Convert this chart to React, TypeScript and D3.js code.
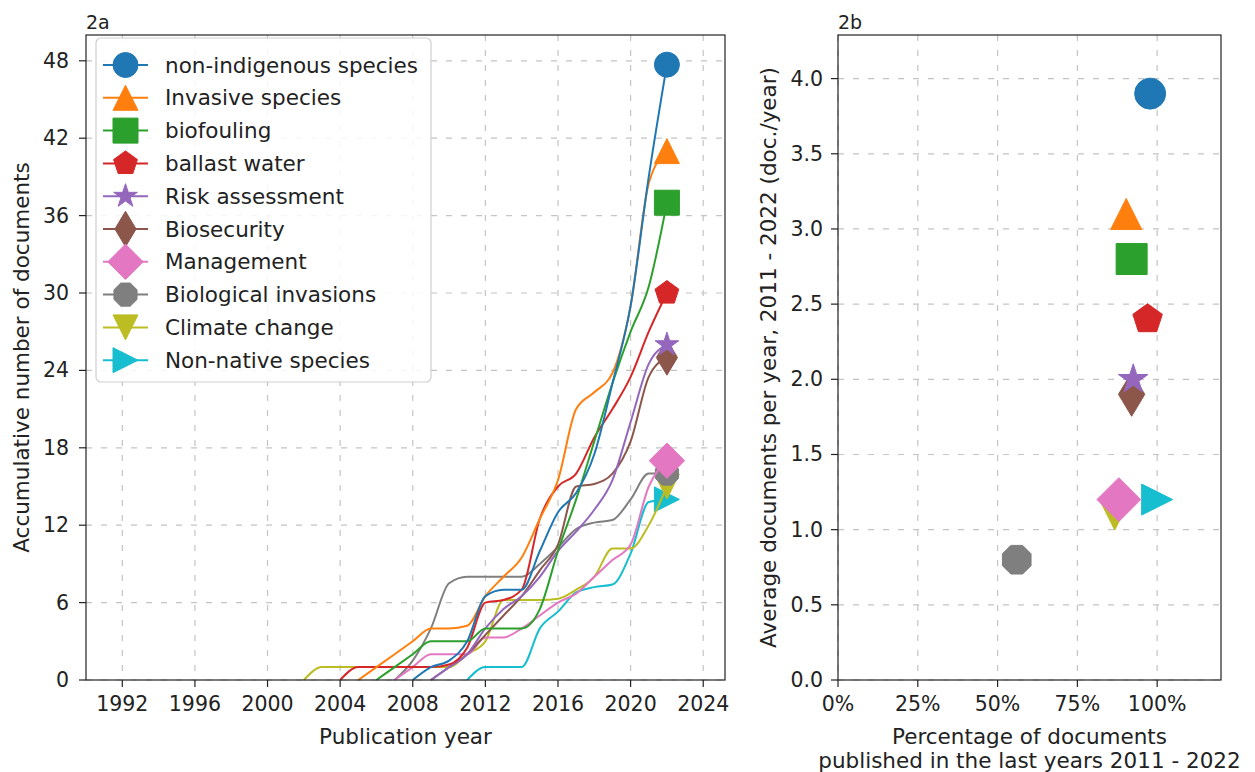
import React from 'react';
import * as d3 from 'd3';

// ---------- data ----------
const seriesNames = [
  'non-indigenous species',
  'Invasive species',
  'biofouling',
  'ballast water',
  'Risk assessment',
  'Biosecurity',
  'Management',
  'Biological invasions',
  'Climate change',
  'Non-native species',
];
const colors = ['#1f77b4', '#ff7f0e', '#2ca02c', '#d62728', '#9467bd', '#8c564b', '#e377c2', '#7f7f7f', '#bcbd22', '#17becf'];
const markerKinds = ['o', '^', 's', 'p', '*', 'd', 'D', '8', 'v', '>'];

// first year of each cumulative series (value 0), then one value per year up to 2022
const startYears = [2008, 2005, 2006, 2004, 2009, 2009, 2007, 2007, 2002, 2011];
const cumNonIndigenous = [0, 1, 1.5, 3, 6.5, 7, 7, 10, 13, 14.5, 17.5, 23, 29, 39, 47.7];
const cumInvasive = [0, 1, 2, 3, 4, 4, 4.2, 6.5, 8, 9.5, 12.5, 15.5, 21, 22.3, 23.8, 29, 38.5, 41];
const cumBiofouling = [0, 1, 2, 3, 3, 3, 4, 4, 4, 5.5, 10, 14, 18.5, 23, 27, 30.5, 37];
const cumBallast = [0, 1, 1, 1, 1, 1, 1.2, 2.5, 6, 6.2, 7, 12.5, 15, 16, 18.8, 21, 23.5, 27, 30];
const cumRisk = [0, 1, 2, 4, 5.5, 6.5, 8, 10, 11.5, 13.2, 15.5, 20, 24.5, 26];
const cumBiosecurity = [0, 1, 2, 3.5, 5, 6.5, 8.5, 10.5, 15, 15.2, 16, 18.5, 23.5, 25];
const cumManagement = [0, 1, 2, 2, 2, 3.3, 3.3, 4, 5, 6, 6.7, 8, 9.3, 10.5, 15, 17];
const cumBioInvasions = [0, 1.5, 4, 7.5, 8, 8, 8, 8, 9, 10.3, 11.7, 12.2, 12.4, 14, 16, 16];
const cumClimate = [0, 1, 1, 1, 1, 1, 1, 1, 1, 2, 3, 6.2, 6.2, 6.2, 6.3, 7, 8, 10.2, 10.2, 12, 15];
const cumNonNative = [0, 1, 1, 1, 4, 5.3, 6.8, 7.2, 7.4, 9.8, 13.8, 14];
const cumulative = [
  cumNonIndigenous, cumInvasive, cumBiofouling, cumBallast, cumRisk,
  cumBiosecurity, cumManagement, cumBioInvasions, cumClimate, cumNonNative,
];

// panel 2b
const pctRecent = [0.978, 0.903, 0.92, 0.97, 0.925, 0.92, 0.88, 0.56, 0.867, 1.0];
const avgPerYear = [3.9, 3.1, 2.8, 2.4, 2.0, 1.9, 1.2, 0.8, 1.1, 1.2];

const xTicksA = [1992, 1996, 2000, 2004, 2008, 2012, 2016, 2020, 2024];
const yTicksA = [0, 6, 12, 18, 24, 30, 36, 42, 48];
const xTicksB = [0, 0.25, 0.5, 0.75, 1.0];
const yTicksB = [0, 0.5, 1.0, 1.5, 2.0, 2.5, 3.0, 3.5, 4.0];

// ---------- layout ----------
const W = 1255, H = 772;
const A = { left: 86, right: 725, top: 35, bottom: 680 };
const B = { left: 838, right: 1221, top: 35, bottom: 680 };
const FONT = 'DejaVu Sans, sans-serif';
const TXT = '#222';
const GRID = '#c4c4c4';

const xA = d3.scaleLinear().domain([1990, 2025.2]).range([A.left, A.right]);
const yA = d3.scaleLinear().domain([0, 50]).range([A.bottom, A.top]);
const xB = d3.scaleLinear().domain([0, 1.2]).range([B.left, B.right]);
const yB = d3.scaleLinear().domain([0, 4.29]).range([B.bottom, B.top]);

function poly(n: number, r: number, rot: number) {
  const pts: string[] = [];
  for (let k = 0; k < n; k++) {
    const a = ((rot + (360 / n) * k) * Math.PI) / 180;
    pts.push(`${(r * Math.sin(a)).toFixed(2)},${(-r * Math.cos(a)).toFixed(2)}`);
  }
  return 'M' + pts.join('L') + 'Z';
}
function star(r: number) {
  const pts: string[] = [];
  for (let k = 0; k < 10; k++) {
    const rr = k % 2 === 0 ? r : r * 0.381966;
    const a = (36 * k * Math.PI) / 180;
    pts.push(`${(rr * Math.sin(a)).toFixed(2)},${(-rr * Math.cos(a)).toFixed(2)}`);
  }
  return 'M' + pts.join('L') + 'Z';
}
function markerPath(kind: string, s: number) {
  const h = s / 2;
  const dd = (s * Math.SQRT2) / 2;
  switch (kind) {
    case '^': return `M0,${-h}L${-h},${h}L${h},${h}Z`;
    case 'v': return `M0,${h}L${-h},${-h}L${h},${-h}Z`;
    case '>': return `M${h},0L${-h},${-h}L${-h},${h}Z`;
    case 's': return `M${-h},${-h}L${h},${-h}L${h},${h}L${-h},${h}Z`;
    case 'p': return poly(5, h, 0);
    case '*': return star(h);
    case 'd': return `M0,${-dd}L${dd * 0.6},0L0,${dd}L${-dd * 0.6},0Z`;
    case 'D': return `M0,${-dd}L${dd},0L0,${dd}L${-dd},0Z`;
    case '8': return poly(8, h, 22.5);
    default: return '';
  }
}
function Marker({ kind, x, y, s, color }: { kind: string; x: number; y: number; s: number; color: string }) {
  if (kind === 'o') return <circle cx={x} cy={y} r={s / 2} fill={color} stroke={color} strokeWidth={1} />;
  return <path d={markerPath(kind, s)} transform={`translate(${x},${y})`} fill={color} stroke={color} strokeWidth={1} strokeLinejoin="miter" />;
}

const lineGen = d3
  .line<[number, number]>()
  .x((d) => xA(d[0]))
  .y((d) => yA(d[1]))
  .curve(d3.curveMonotoneX);

export default function App() {
  const order = d3.range(seriesNames.length).reverse();
  const fmtPct = (v: number) => `${Math.round(v * 100)}%`;
  const legendTop = 65, legendStep = 32.8;
  return (
    <svg width={W} height={H} style={{ position: 'absolute', left: 0, top: 0, background: '#fff' }} fontFamily={FONT}>
      {/* ---------- panel 2a ---------- */}
      <g>
        {xTicksA.map((t) => (
          <line key={'gx' + t} x1={xA(t)} x2={xA(t)} y1={A.top} y2={A.bottom} stroke={GRID} strokeWidth={1.2} strokeDasharray="6,9" />
        ))}
        {yTicksA.map((t) => (
          <line key={'gy' + t} x1={A.left} x2={A.right} y1={yA(t)} y2={yA(t)} stroke={GRID} strokeWidth={1.2} strokeDasharray="6,9" />
        ))}
        {order.map((i) => {
          const data: [number, number][] = cumulative[i].map((v, k) => [startYears[i] + k, v]);
          const last = data[data.length - 1];
          return (
            <g key={'s' + i}>
              <path d={lineGen(data) || ''} fill="none" stroke={colors[i]} strokeWidth={2} />
              <Marker kind={markerKinds[i]} x={xA(last[0])} y={yA(last[1])} s={25} color={colors[i]} />
            </g>
          );
        })}
        <rect x={A.left} y={A.top} width={A.right - A.left} height={A.bottom - A.top} fill="none" stroke="#222" strokeWidth={1.2} />
        {xTicksA.map((t) => (
          <g key={'tx' + t}>
            <line x1={xA(t)} x2={xA(t)} y1={A.bottom} y2={A.bottom + 7} stroke="#222" strokeWidth={1.2} />
            <text x={xA(t)} y={A.bottom + 31} textAnchor="middle" fontSize={20.5} fill={TXT}>{t}</text>
          </g>
        ))}
        {yTicksA.map((t) => (
          <g key={'ty' + t}>
            <line x1={A.left - 7} x2={A.left} y1={yA(t)} y2={yA(t)} stroke="#222" strokeWidth={1.2} />
            <text x={A.left - 17} y={yA(t)} textAnchor="end" dominantBaseline="central" fontSize={20.5} fill={TXT}>{t}</text>
          </g>
        ))}
        <text x={(A.left + A.right) / 2} y={744} textAnchor="middle" fontSize={21.5} fill={TXT}>Publication year</text>
        <text transform={`translate(21,${(A.top + A.bottom) / 2}) rotate(-90)`} textAnchor="middle" dominantBaseline="central" fontSize={21.5} fill={TXT}>
          Accumulative number of documents
        </text>
        <text x={A.left} y={29} fontSize={19} fill={TXT}>2a</text>

        {/* legend */}
        <rect x={96} y={38} width={335} height={344} rx={5} fill="#fff" fillOpacity={0.85} stroke="#cfcfcf" strokeWidth={1.2} />
        {seriesNames.map((name, i) => {
          const cy = legendTop + i * legendStep;
          return (
            <g key={'lg' + i}>
              <line x1={103} x2={148} y1={cy} y2={cy} stroke={colors[i]} strokeWidth={2} />
              <Marker kind={markerKinds[i]} x={125.5} y={cy} s={25} color={colors[i]} />
              <text x={165} y={cy} dominantBaseline="central" fontSize={21.5} fill={TXT}>{name}</text>
            </g>
          );
        })}
      </g>

      {/* ---------- panel 2b ---------- */}
      <g>
        {xTicksB.map((t) => (
          <line key={'bgx' + t} x1={xB(t)} x2={xB(t)} y1={B.top} y2={B.bottom} stroke={GRID} strokeWidth={1.2} strokeDasharray="6,9" />
        ))}
        {yTicksB.map((t) => (
          <line key={'bgy' + t} x1={B.left} x2={B.right} y1={yB(t)} y2={yB(t)} stroke={GRID} strokeWidth={1.2} strokeDasharray="6,9" />
        ))}
        {order.map((i) => (
          <Marker key={'bm' + i} kind={markerKinds[i]} x={xB(pctRecent[i])} y={yB(avgPerYear[i])} s={31} color={colors[i]} />
        ))}
        <rect x={B.left} y={B.top} width={B.right - B.left} height={B.bottom - B.top} fill="none" stroke="#222" strokeWidth={1.2} />
        {xTicksB.map((t) => (
          <g key={'btx' + t}>
            <line x1={xB(t)} x2={xB(t)} y1={B.bottom} y2={B.bottom + 7} stroke="#222" strokeWidth={1.2} />
            <text x={xB(t)} y={B.bottom + 31} textAnchor="middle" fontSize={20.5} fill={TXT}>{fmtPct(t)}</text>
          </g>
        ))}
        {yTicksB.map((t) => (
          <g key={'bty' + t}>
            <line x1={B.left - 7} x2={B.left} y1={yB(t)} y2={yB(t)} stroke="#222" strokeWidth={1.2} />
            <text x={B.left - 15} y={yB(t)} textAnchor="end" dominantBaseline="central" fontSize={20.5} fill={TXT}>{t.toFixed(1)}</text>
          </g>
        ))}
        <text x={(B.left + B.right) / 2} y={744} textAnchor="middle" fontSize={21.5} fill={TXT}>Percentage of documents</text>
        <text x={(B.left + B.right) / 2} y={768} textAnchor="middle" fontSize={21.5} fill={TXT}>published in the last years 2011 - 2022</text>
        <text transform={`translate(768,${(B.top + B.bottom) / 2}) rotate(-90)`} textAnchor="middle" dominantBaseline="central" fontSize={21.5} fill={TXT}>
          Average documents per year, 2011 - 2022 (doc./year)
        </text>
        <text x={B.left} y={29} fontSize={19} fill={TXT}>2b</text>
      </g>
    </svg>
  );
}
